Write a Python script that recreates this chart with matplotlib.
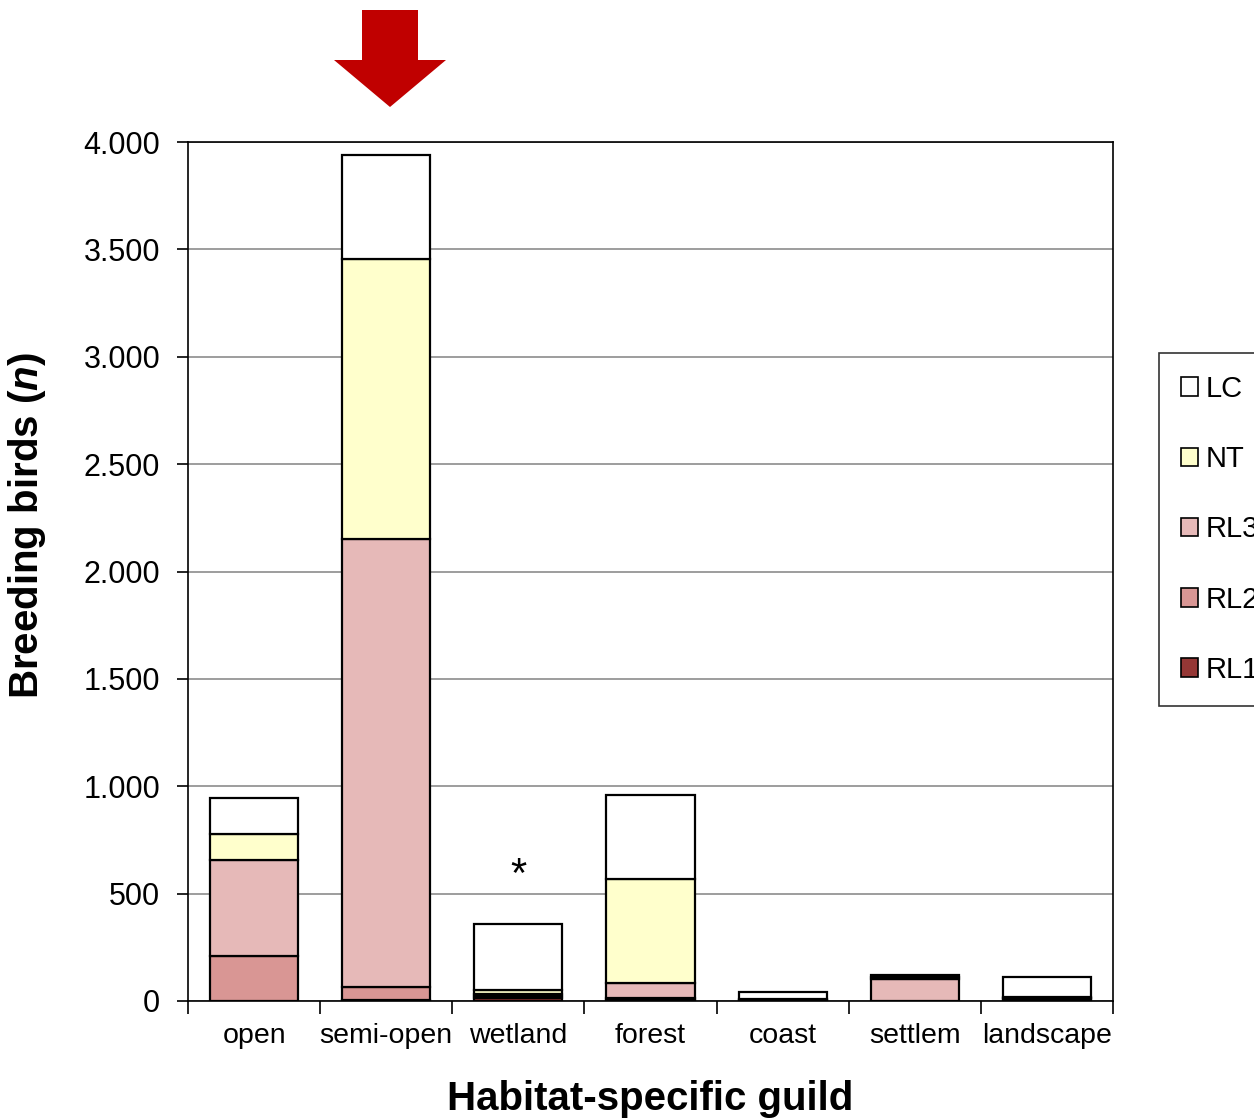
import matplotlib
matplotlib.use("Agg")
import matplotlib.pyplot as plt
import numpy as np
from matplotlib.patches import Polygon, Patch
from matplotlib.ticker import FuncFormatter

plt.rcParams['font.family'] = ['Liberation Sans', 'DejaVu Sans']
plt.rcParams['mathtext.fontset'] = 'custom'
plt.rcParams['mathtext.it'] = 'Liberation Sans:bold:italic'

guilds = ['open', 'semi-open', 'wetland', 'forest', 'coast', 'settlem', 'landscape']
rl1 = [0, 3, 15, 4, 0, 0, 2]
rl2 = [210, 62, 8, 8, 2, 2, 5]
rl3 = [447, 2086, 8, 70, 4, 100, 8]
nt = [121, 1304, 20, 487, 4, 8, 5]
lc = [167, 485, 307, 391, 30, 11, 90]

series = [('RL1', rl1, '#953735'), ('RL2', rl2, '#D99694'), ('RL3', rl3, '#E6B9B8'),
          ('NT', nt, '#FFFFCC'), ('LC', lc, '#FFFFFF')]

fig = plt.figure(figsize=(12.54, 11.18), dpi=100)
ax = fig.add_axes([188 / 1254, 1 - 1001 / 1118, (1113 - 188) / 1254, (1001 - 142) / 1118])

x = np.arange(len(guilds))
bottom = np.zeros(len(guilds))
for name, vals, col in series:
    ax.bar(x, vals, 0.667, bottom=bottom, color=col, edgecolor='black', linewidth=1.6, zorder=3)
    bottom += np.array(vals)

ax.set_xlim(-0.5, len(guilds) - 0.5)
ax.set_ylim(0, 4000)
ax.set_yticks(np.arange(0, 4001, 500))
ax.yaxis.set_major_formatter(FuncFormatter(lambda v, p: f'{int(v):,}'.replace(',', '.')))
ax.grid(axis='y', color='#8c8c8c', linewidth=1.2, zorder=0)

# category labels between boundary ticks
ax.set_xticks(np.arange(-0.5, len(guilds), 1))
ax.set_xticklabels([])
ax.set_xticks(x, minor=True)
ax.set_xticklabels(guilds, minor=True)
ax.tick_params(axis='x', which='minor', length=0, labelsize=20.5, pad=16)
ax.tick_params(axis='x', which='major', length=9, width=1.2)
ax.tick_params(axis='y', length=8, width=1.2, labelsize=22, pad=12)
for s in ax.spines.values():
    s.set_linewidth(1.2)

ax.set_xlabel('Habitat-specific guild', fontsize=29, fontweight='bold', labelpad=22)
ax.set_ylabel(r'Breeding birds ($n$)', fontsize=29, fontweight='bold')
ax.yaxis.set_label_coords(-0.151, 0.553)

ax.text(2, 580, '*', ha='center', va='center', fontsize=30)

# red arrow above semi-open
W, H = 1254, 1118
pts = [(362, 10), (418, 10), (418, 60), (446, 60), (390, 107), (334, 60), (362, 60)]
arrow = Polygon([(px / W, 1 - py / H) for px, py in pts], closed=True,
                transform=fig.transFigure, facecolor='#C00000', edgecolor='none')
fig.patches.append(arrow)

handles = [Patch(facecolor=col, edgecolor='black', linewidth=1.2, label=name)
           for name, vals, col in reversed(series)]
leg = fig.legend(handles=handles, loc='upper left', bbox_to_anchor=(1159 / W, 1 - 353 / H),
                 fontsize=21, frameon=True, fancybox=False, edgecolor='black',
                 handlelength=0.6, handleheight=0.6, handletextpad=0.25,
                 labelspacing=1.45, borderpad=0.75, borderaxespad=0)
leg.get_frame().set_linewidth(1.2)

fig.savefig('out.png', dpi=100)
